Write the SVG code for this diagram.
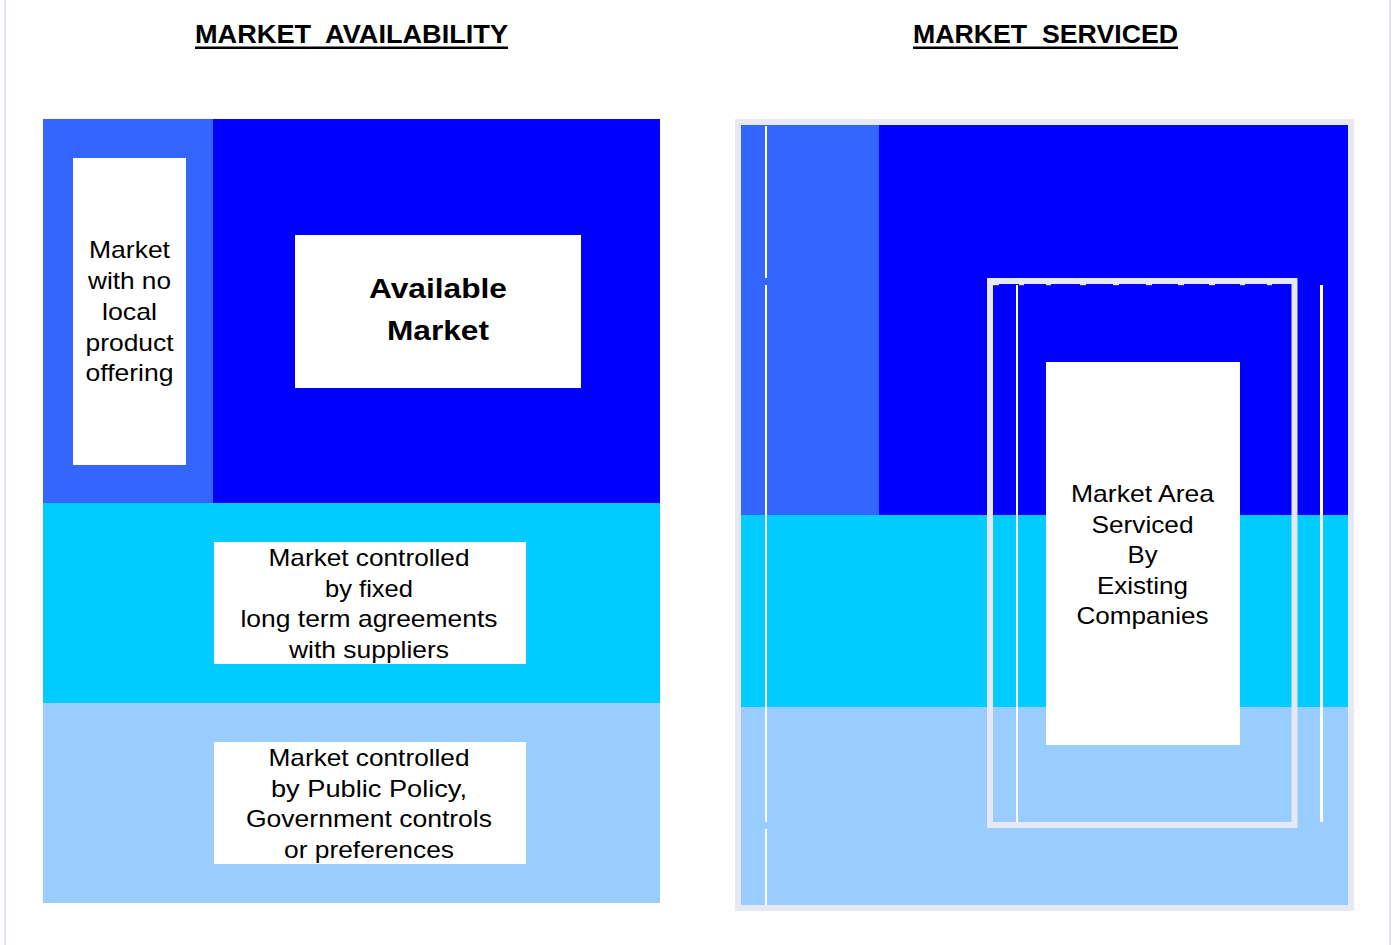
<svg xmlns="http://www.w3.org/2000/svg" width="1395" height="945" viewBox="0 0 1395 945">
<style>
.t{font-family:"Liberation Sans",Arial,sans-serif;font-size:24px;fill:#000;text-anchor:middle}
.b{font-weight:bold;font-size:28px}
.h{font-family:"Liberation Sans",Arial,sans-serif;font-size:25px;font-weight:bold;fill:#000}
.c1{fill:#3366FF}.c2{fill:#0000FF}.c3{fill:#00CCFF}.c4{fill:#99CCFF}
.w{fill:#FFFFFF}.g{fill:#E6E9F4}
</style>
<rect width="1395" height="945" fill="#FFFFFF"/>
<rect x="4" y="0" width="2" height="945" fill="#DCE4F0"/>
<rect x="1389" y="0" width="2" height="945" fill="#DCE4F0"/>

<g id="title-left">
<text class="h" x="195" y="43" textLength="313" lengthAdjust="spacingAndGlyphs" xml:space="preserve">MARKET  AVAILABILITY</text>
<rect x="195" y="46.5" width="313" height="2.5" fill="#000"/>
</g>
<g id="title-right">
<text class="h" x="913" y="43" textLength="265" lengthAdjust="spacingAndGlyphs" xml:space="preserve">MARKET  SERVICED</text>
<rect x="913" y="46.5" width="265" height="2.5" fill="#000"/>
</g>

<g id="left-panel">
<rect class="c2" x="43" y="119" width="617" height="384"/>
<rect class="c1" x="43" y="119" width="170" height="384"/>
<rect class="c3" x="43" y="503" width="617" height="200"/>
<rect class="c4" x="43" y="703" width="617" height="200"/>
</g>

<g id="no-local">
<rect class="w" x="73" y="158" width="113" height="307"/>
<text class="t" x="129.5" y="258" textLength="81" lengthAdjust="spacingAndGlyphs">Market</text>
<text class="t" x="129.5" y="289" textLength="83" lengthAdjust="spacingAndGlyphs">with no</text>
<text class="t" x="129.5" y="320" textLength="55" lengthAdjust="spacingAndGlyphs">local</text>
<text class="t" x="129.5" y="350.5" textLength="88" lengthAdjust="spacingAndGlyphs">product</text>
<text class="t" x="129.5" y="381" textLength="88" lengthAdjust="spacingAndGlyphs">offering</text>
</g>

<g id="available">
<rect class="w" x="295" y="235" width="286" height="153"/>
<text class="t b" x="438" y="298" textLength="138" lengthAdjust="spacingAndGlyphs">Available</text>
<text class="t b" x="438" y="340" textLength="102" lengthAdjust="spacingAndGlyphs">Market</text>
</g>

<g id="fixed">
<rect class="w" x="214" y="542" width="312" height="122"/>
<text class="t" x="369" y="566" textLength="201" lengthAdjust="spacingAndGlyphs">Market controlled</text>
<text class="t" x="369" y="596.5" textLength="88" lengthAdjust="spacingAndGlyphs">by fixed</text>
<text class="t" x="369" y="627" textLength="257" lengthAdjust="spacingAndGlyphs">long term agreements</text>
<text class="t" x="369" y="657.5" textLength="160" lengthAdjust="spacingAndGlyphs">with suppliers</text>
</g>

<g id="policy">
<rect class="w" x="214" y="742" width="312" height="122"/>
<text class="t" x="369" y="766" textLength="201" lengthAdjust="spacingAndGlyphs">Market controlled</text>
<text class="t" x="369" y="796.5" textLength="196" lengthAdjust="spacingAndGlyphs">by Public Policy,</text>
<text class="t" x="369" y="827" textLength="246" lengthAdjust="spacingAndGlyphs">Government controls</text>
<text class="t" x="369" y="857.5" textLength="170" lengthAdjust="spacingAndGlyphs">or preferences</text>
</g>

<g id="right-panel">
<rect class="g" x="735" y="119" width="619" height="792"/>
<rect class="c2" x="741" y="125" width="607" height="390"/>
<rect class="c1" x="741" y="125" width="138" height="390"/>
<rect class="c3" x="741" y="515" width="607" height="192"/>
<rect class="c4" x="741" y="707" width="607" height="198"/>
</g>

<g id="serviced-frame">
<rect class="w" x="765" y="126" width="2" height="152"/>
<rect class="w" x="765" y="285" width="2" height="537"/>
<rect class="w" x="765" y="829" width="2" height="76"/>
<rect class="w" x="1016" y="285" width="2" height="537"/>
<rect class="w" x="1320" y="285" width="3" height="537"/>
<rect x="990" y="281" width="304.5" height="544" fill="none" stroke="#E6E9F4" stroke-width="6"/>
<g class="g">
<rect x="993" y="284" width="6" height="1.2"/>
<rect x="1019" y="284" width="5" height="1.2"/>
<rect x="1046" y="284" width="5" height="1.2"/>
<rect x="1080" y="284" width="6" height="1.2"/>
<rect x="1113" y="284" width="6" height="1.2"/>
<rect x="1146" y="284" width="6" height="1.2"/>
<rect x="1178" y="284" width="6" height="1.2"/>
<rect x="1209" y="284" width="6" height="1.2"/>
<rect x="1240" y="284" width="5" height="1.2"/>
<rect x="1267" y="284" width="5" height="1.2"/>
</g>
</g>

<g id="serviced">
<rect class="w" x="1046" y="362" width="194" height="383"/>
<text class="t" x="1142.5" y="502" textLength="143" lengthAdjust="spacingAndGlyphs">Market Area</text>
<text class="t" x="1142.5" y="532.5" textLength="102" lengthAdjust="spacingAndGlyphs">Serviced</text>
<text class="t" x="1142.5" y="563" textLength="30" lengthAdjust="spacingAndGlyphs">By</text>
<text class="t" x="1142.5" y="593.5" textLength="91" lengthAdjust="spacingAndGlyphs">Existing</text>
<text class="t" x="1142.5" y="623.5" textLength="132" lengthAdjust="spacingAndGlyphs">Companies</text>
</g>
</svg>
